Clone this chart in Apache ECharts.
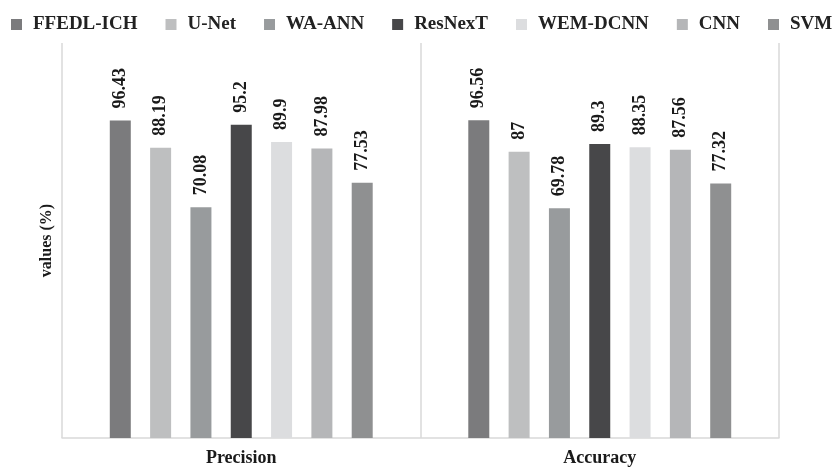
<!DOCTYPE html>
<html>
<head>
<meta charset="utf-8">
<script src="https://cdn.jsdelivr.net/npm/echarts@6/dist/echarts.min.js"></script>
<style>
  html, body { margin: 0; padding: 0; background: #ffffff; }
  #chart { width: 837px; height: 467px; }
</style>
</head>
<body>
<div id="chart"></div>
<script>
// Metrics compared across methods
const categories = ['Precision', 'Accuracy'];
const methods = ['FFEDL-ICH', 'U-Net', 'WA-ANN', 'ResNexT', 'WEM-DCNN', 'CNN', 'SVM'];
const ffedlIch = [96.43, 96.56];
const uNet = [88.19, 87];
const waAnn = [70.08, 69.78];
const resNext = [95.2, 89.3];
const wemDcnn = [89.9, 88.35];
const cnn = [87.98, 87.56];
const svm = [77.53, 77.32];

const seriesValues = [ffedlIch, uNet, waAnn, resNext, wemDcnn, cnn, svm];
const colors = ['#7b7b7d', '#bebfc0', '#989b9d', '#474749', '#dcdddf', '#b5b6b8', '#8f9091'];

const fontFamily = '"Liberation Serif", "Times New Roman", serif';

const chart = echarts.init(document.getElementById('chart'), null, { renderer: 'canvas' });

chart.setOption({
  animation: false,
  color: colors,
  legend: {
    top: 15,
    left: 11,
    width: 826,
    padding: 0,
    itemWidth: 11,
    itemHeight: 11,
    itemGap: 28,
    icon: 'rect',
    textStyle: {
      fontFamily: fontFamily,
      fontWeight: 'bold',
      fontSize: 19,
      color: '#222222',
      padding: [0, 0, 0, 6]
    },
    data: methods
  },
  grid: { left: 62, right: 58, top: 43, bottom: 28 },
  xAxis: {
    type: 'category',
    data: categories,
    axisLine: { show: true, lineStyle: { color: '#d9d9d9', width: 1.5 } },
    axisTick: { show: false },
    splitLine: { show: true, lineStyle: { color: '#d9d9d9', width: 1.5 } },
    axisLabel: {
      fontFamily: fontFamily,
      fontWeight: 'bold',
      fontSize: 18,
      color: '#1a1a1a',
      margin: 11
    }
  },
  yAxis: {
    type: 'value',
    min: 0,
    max: 120,
    name: 'values (%)',
    nameLocation: 'middle',
    nameGap: 7,
    nameTextStyle: {
      fontFamily: fontFamily,
      fontWeight: 'bold',
      fontSize: 16,
      color: '#1a1a1a'
    },
    axisLine: { show: false },
    axisTick: { show: false },
    axisLabel: { show: false },
    splitLine: { show: false }
  },
  series: methods.map((name, i) => ({
    name: name,
    type: 'bar',
    data: seriesValues[i],
    barWidth: 21,
    barGap: '92%',
    itemStyle: { color: colors[i] },
    label: {
      show: true,
      position: 'top',
      distance: 12,
      rotate: 90,
      align: 'left',
      verticalAlign: 'middle',
      fontFamily: fontFamily,
      fontWeight: 'bold',
      fontSize: 18,
      color: '#1a1a1a'
    }
  }))
});
</script>
</body>
</html>
